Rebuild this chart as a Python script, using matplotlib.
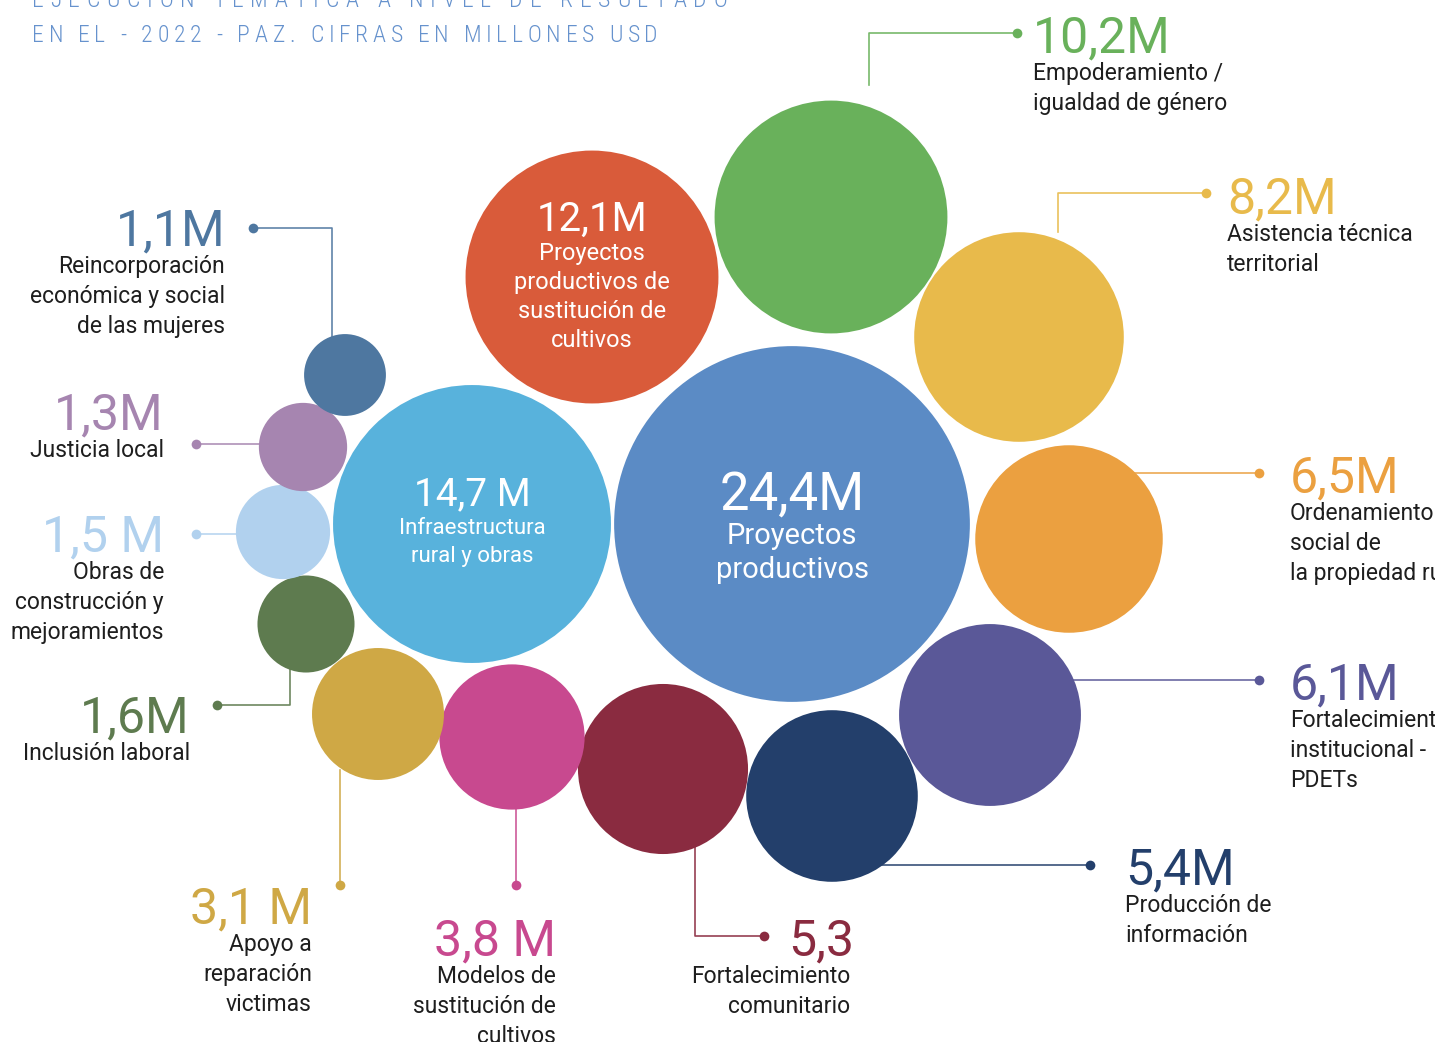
import matplotlib
matplotlib.use("Agg")
import matplotlib.pyplot as plt
from matplotlib.patches import Circle
from matplotlib.font_manager import FontProperties

# data
values = [24.4, 14.7, 12.1, 10.2, 8.2, 6.5, 6.1, 5.4, 5.3, 3.8, 3.1, 1.6, 1.5, 1.3, 1.1]
value_labels = ["24,4M", "14,7 M", "12,1M", "10,2M", "8,2M", "6,5M", "6,1M",
                "5,4M", "5,3", "3,8 M", "3,1 M", "1,6M", "1,5 M", "1,3M", "1,1M"]
names = [
    "Proyectos\nproductivos",
    "Infraestructura\nrural y obras",
    "Proyectos\nproductivos de\nsustitución de\ncultivos",
    "Empoderamiento /\nigualdad de género",
    "Asistencia técnica\nterritorial",
    "Ordenamiento\nsocial de\nla propiedad rural",
    "Fortalecimiento\ninstitucional -\nPDETs",
    "Producción de\ninformación",
    "Fortalecimiento\ncomunitario",
    "Modelos de\nsustitución de\ncultivos",
    "Apoyo a\nreparación\nvictimas",
    "Inclusión laboral",
    "Obras de\nconstrucción y\nmejoramientos",
    "Justicia local",
    "Reincorporación\neconómica y social\nde las mujeres",
]
colors = ["#5B8BC5", "#58B2DC", "#D95B3A", "#69B15B", "#E8BA4B", "#EBA040",
          "#5A5898", "#233F6B", "#8A2B40", "#C8498F", "#CFA845", "#5E7B4F",
          "#B1D1EE", "#A685B0", "#4E77A0"]
title_lines = ["EJECUCIÓN TEMÁTICA A NIVEL DE RESULTADO",
               "EN EL - 2022 - PAZ. CIFRAS EN MILLONES USD"]

# layout (pixel space, y down)
centers = [(792, 524), (472, 524), (592, 277), (831, 217), (1019, 337),
           (1069, 539), (990, 715), (832, 796), (663, 769), (512, 737),
           (378, 714), (306, 624), (283, 532), (303, 447), (345, 375)]

inner = {0: (792, 510, 38, 21, 34, 34),
         1: (472, 505, 28, 16, 29, 28),
         2: (592, 231, 29, 17, 29, 29)}

# value label x, baseline, align; sub-label x, align
outer = {3: (1033, 52, "left", 1033, "left"), 4: (1227, 213, "left", 1227, "left"),
         5: (1290, 492, "left", 1290, "left"), 6: (1290, 699, "left", 1290, "left"),
         7: (1125, 884, "left", 1125, "left"), 8: (788, 955, "left", 850, "right"),
         9: (556, 955, "right", 556, "right"), 10: (312, 923, "right", 312, "right"),
         11: (190, 732, "right", 190, "right"), 12: (164, 551, "right", 164, "right"),
         13: (164, 429, "right", 164, "right"), 14: (225, 245, "right", 225, "right")}

leaders = {3: [(869, 85), (869, 33), (1017, 33)],
           4: [(1058, 232), (1058, 193), (1206, 193)],
           5: [(1130, 473), (1259, 473)],
           6: [(1070, 680), (1259, 680)],
           7: [(880, 865), (1090, 865)],
           8: [(695, 840), (695, 936), (764, 936)],
           9: [(516, 800), (516, 885)],
           10: [(340, 770), (340, 885)],
           11: [(290, 665), (290, 705), (217, 705)],
           12: [(245, 534), (196, 534)],
           13: [(265, 444), (196, 444)],
           14: [(332, 340), (332, 228), (253, 228)]}

W, H = 1456, 1042
CUT = 1435  # the artwork is cropped on the right
fig = plt.figure(figsize=(W / 100, H / 100), dpi=100)
ax = fig.add_axes([0, 0, CUT / W, 1])
ax.set_xlim(0, CUT)
ax.set_ylim(H, 0)
ax.axis("off")

FONT = "Roboto"
TXT = "#1e1e1e"

for i, v in enumerate(values):
    r = 4 + 35.2 * v ** 0.5
    ax.add_patch(Circle(centers[i], r, color=colors[i], lw=0, zorder=3))

for i, (x, y, fs, sfs, off, sp) in inner.items():
    ax.text(x, y, value_labels[i], color="white", fontsize=fs, family=FONT,
            weight="normal", ha="center", va="baseline", zorder=5)
    for k, line in enumerate(names[i].split("\n")):
        ax.text(x, y + off + sp * k, line, color="white", fontsize=sfs, family=FONT,
                weight="normal", ha="center", va="baseline", zorder=5)

for i, (x, y, ha, sx, sha) in outer.items():
    ax.text(x, y, value_labels[i], color=colors[i], fontsize=36, family=FONT,
            weight="normal", ha=ha, va="baseline", zorder=5, clip_on=True)
    for k, line in enumerate(names[i].split("\n")):
        ax.text(sx, y + 28 + 30 * k, line, color=TXT, fontsize=16.5, family=FONT,
                weight="normal", ha=sha, va="baseline", zorder=5, clip_on=True)
    pts = leaders[i]
    ax.plot([p[0] for p in pts], [p[1] for p in pts], color=colors[i], lw=1.2,
            zorder=2, alpha=0.9)
    ax.plot(pts[-1][0], pts[-1][1], "o", color=colors[i], ms=7, mec="none", zorder=4)

# letter-spaced title
renderer = fig.canvas.get_renderer()
prop = FontProperties(family="Roboto Condensed", weight="light", size=17)


def width(s):
    return renderer.get_text_width_height_descent(s, prop, ismath=False)[0]


base = width("HH")
for line, y, x0, x1 in [(title_lines[0], 7, 32, 727), (title_lines[1], 42, 32, 658)]:
    adv = [width("H" + ch + "H") - base for ch in line]
    track = ((x1 - x0) - sum(adv)) / (len(line) - 1)
    x = x0
    for ch, a in zip(line, adv):
        ax.text(x, y, ch, color="#6692CD", fontproperties=prop, ha="left",
                va="baseline", zorder=5)
        x += a + track

fig.savefig("out.png", dpi=100)
